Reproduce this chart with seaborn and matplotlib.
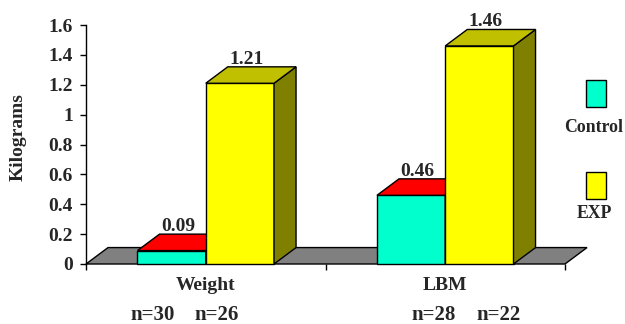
import matplotlib
matplotlib.use("Agg")
import matplotlib.pyplot as plt
from matplotlib.patches import Polygon, Rectangle
import seaborn as sns
import pandas as pd

# ---- data ----
categories = ["Weight", "LBM"]
groups = ["Control", "EXP"]
control_values = [0.09, 0.46]
exp_values = [1.21, 1.46]
value_labels_control = ["0.09", "0.46"]
value_labels_exp = ["1.21", "1.46"]
n_labels = ["n=30", "n=26", "n=28", "n=22"]
y_ticks = [0, 0.2, 0.4, 0.6, 0.8, 1.0, 1.2, 1.4, 1.6]
y_tick_labels = ["0", "0.2", "0.4", "0.6", "0.8", "1", "1.2", "1.4", "1.6"]

df = pd.DataFrame({
    "Measure": categories * 2,
    "Group": [groups[0]] * len(categories) + [groups[1]] * len(categories),
    "Kilograms": control_values + exp_values,
})

front_colors = ["#00FFCC", "#FFFF00"]
top_colors = ["#FF0000", "#C0C000"]
side_colors = ["#800000", "#808000"]
floor_color = "#808080"

sns.set_theme(style="white")
plt.rcParams["font.family"] = ["Liberation Serif", "DejaVu Serif"]
plt.rcParams["font.weight"] = "bold"

W, H = 625, 324
fig = plt.figure(figsize=(W / 100, H / 100), dpi=100)
fig.patch.set_facecolor("white")
ax = fig.add_axes([86 / W, 1 - 264 / H, 479 / W, 239 / H])
ax.set_facecolor("none")

sns.barplot(data=df, x="Measure", y="Kilograms", hue="Group", order=categories,
            hue_order=groups, palette=front_colors, width=0.57, edgecolor="black",
            linewidth=1.0, ax=ax, legend=False, saturation=1)

ax.set_xlim(-0.5, 1.5)
ax.set_ylim(0, 1.6)

# depth offsets (data units)
dx, dy = 0.092, 0.11

# floor
floor = Polygon([(-0.5, 0), (1.5, 0), (1.5 + dx, dy), (-0.5 + dx, dy)], closed=True,
                facecolor=floor_color, edgecolor="black", linewidth=1.0,
                zorder=1, clip_on=False)
ax.add_patch(floor)

bars = [p for p in ax.patches if isinstance(p, Rectangle) and p.get_height() > 0]
n_cat = len(categories)
value_texts = value_labels_control + value_labels_exp
for i, bar in enumerate(bars):
    g = i // n_cat
    x0 = bar.get_x()
    w = bar.get_width()
    h = bar.get_height()
    x1 = x0 + w
    z = 3 + 2 * g
    bar.set_zorder(z)
    bar.set_clip_on(False)
    top = Polygon([(x0, h), (x1, h), (x1 + dx, h + dy), (x0 + dx, h + dy)], closed=True,
                  facecolor=top_colors[g], edgecolor="black", linewidth=1.0,
                  zorder=z + 0.5, clip_on=False)
    side = Polygon([(x1, 0), (x1 + dx, dy), (x1 + dx, h + dy), (x1, h)], closed=True,
                   facecolor=side_colors[g], edgecolor="black", linewidth=1.0,
                   zorder=z + 0.5, clip_on=False)
    ax.add_patch(side)
    ax.add_patch(top)
    ax.text(x0 + w / 2 + dx * 0.3, h + dy - 0.005, value_texts[i], ha="center",
            va="bottom", fontsize=14, fontweight="bold", zorder=10, clip_on=False)

# axes styling
for s in ["top", "right"]:
    ax.spines[s].set_visible(False)
ax.spines["left"].set_color("black")
ax.spines["left"].set_linewidth(1.0)
ax.spines["bottom"].set_visible(False)
ax.set_yticks(y_ticks)
ax.set_yticklabels(y_tick_labels, fontsize=14, fontweight="bold")
ax.tick_params(axis="y", which="major", left=True, length=4.5, width=1, pad=5, color="black")
ax.set_xticks(range(n_cat))
ax.set_xticklabels(categories, fontsize=14, fontweight="bold")
ax.tick_params(axis="x", which="major", bottom=False, length=0, pad=9)
ax.set_xticks([-0.5, 0.5, 1.5], minor=True)
ax.tick_params(axis="x", which="minor", bottom=True, length=4.5, width=1, color="black")
ax.set_xlabel("")
ax.set_ylabel("Kilograms", fontsize=14, fontweight="bold", va="center")
ax.yaxis.set_label_coords(-0.142, 0.53)
ax.grid(False)

# n labels
n_x = [153, 217, 434, 499]
for lab, xp in zip(n_labels, n_x):
    fig.text(xp / W, 1 - 315 / H, lab, ha="center", va="center", fontsize=15,
             fontweight="bold")

# legend (square above label)
leg_y = [(80, 107, 128), (172, 199, 213)]
for g, (yt, yb, ty) in enumerate(leg_y):
    fig.patches.append(Rectangle((586 / W, 1 - yb / H), 20 / W, (yb - yt) / H,
                                 transform=fig.transFigure, facecolor=front_colors[g],
                                 edgecolor="black", linewidth=1.0))
    fig.text(594 / W, 1 - ty / H, groups[g], ha="center", va="center", fontsize=12.8,
             fontweight="bold")

fig.savefig("out.png", dpi=100)
